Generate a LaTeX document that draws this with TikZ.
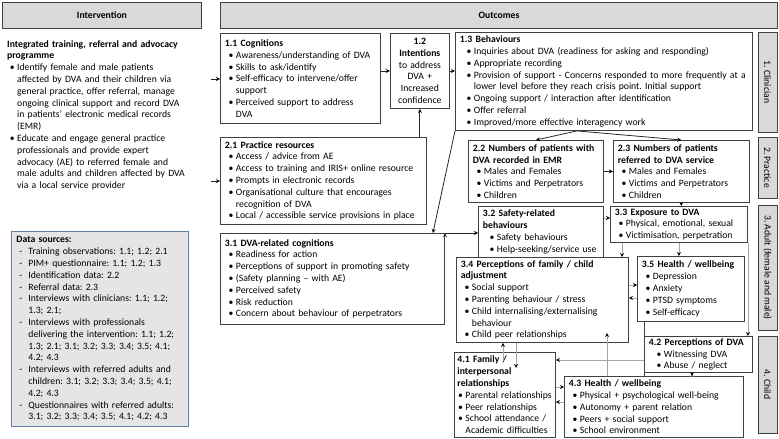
\documentclass[tikz,border=0pt]{standalone}
\usepackage{fontspec}
\setmainfont{Carlito}
\usetikzlibrary{positioning}
\frenchspacing
\hyphenpenalty=10000
\exhyphenpenalty=10000

% bullet and dash items with hanging indent
\newcommand{\itm}[2][11pt]{\par\rightskip=-4pt plus 1fil\hangindent=#1\hangafter=1%
    \noindent\hbox to #1{\hss\textbullet\hskip2.5pt}#2\par}
\newcommand{\dsh}[1]{\par\rightskip=-4pt plus 1fil\hangindent=12pt\hangafter=1%
    \noindent\hbox to 12pt{\hskip3pt-\hfil}#1\par}

\begin{document}
\begin{tikzpicture} [x=1pt, y=-1pt,
            every node/.style={font=\fontsize{9.7}{11.8}\selectfont},
            headbox/.style={draw=black!75, line width=0.9pt, fill=black!15,
                font=\fontsize{9.7}{11.8}\selectfont\bfseries, anchor=north west},
            outbox/.style={draw=black!75, line width=0.9pt, fill=white,
                inner xsep=4.5pt, inner ysep=1.5pt, align=left, anchor=north west},
            sidebox/.style={draw=black!75, line width=0.9pt, fill=black!15,
                rotate=-90, minimum height=19pt, inner sep=0pt},
            srcbox/.style={draw={rgb,255:red,96;green,128;blue,168}, line width=0.9pt,
                fill=black!10, inner xsep=5pt, inner ysep=3pt, align=left,
                anchor=north west},
            blk/.style={-stealth, draw=black!85, line width=0.8pt},
            gry/.style={-stealth, draw=black!35, line width=0.8pt}]

            \useasboundingbox (0,0) rectangle (779,439);

            % Headers
            \node (hInt) [headbox, minimum width=199pt, minimum height=26pt]
                at (2,2) {Intervention};
            \node (hOut) [headbox, minimum width=557pt, minimum height=26pt]
                at (220,2) {Outcomes};

            % Intervention text
            \node (prog) [anchor=north west, inner sep=0pt, text width=196pt, align=left]
                at (7,40) {\textbf{Integrated training, referral and advocacy}\newline
                \textbf{programme}
                \itm[10pt]{Identify female and male patients\newline
                affected by DVA and their children via\newline
                general practice, offer referral, manage\newline
                ongoing clinical support and record DVA\newline
                in patients' electronic medical records\newline (EMR)}
                \itm[10pt]{Educate and engage general practice\newline
                professionals and provide expert\newline
                advocacy (AE) to referred female and\newline
                male adults and children affected by DVA\newline
                via a local service provider}};

            % Data sources
            \node (src) [srcbox, text width=167pt, minimum height=195pt]
                at (11,231) {\textbf{Data sources:}
                \dsh{Training observations: 1.1; 1.2; 2.1}
                \dsh{PIM+ questionnaire: 1.1; 1.2; 1.3}
                \dsh{Identification data: 2.2}
                \dsh{Referral data: 2.3}
                \dsh{Interviews with clinicians: 1.1; 1.2;\newline 1.3; 2.1;}
                \dsh{Interviews with professionals\newline
                delivering the intervention: 1.1; 1.2;\newline
                1.3; 2.1; 3.1; 3.2; 3.3; 3.4; 3.5; 4.1;\newline 4.2; 4.3}
                \dsh{Interviews with referred adults and\newline
                children: 3.1; 3.2; 3.3; 3.4; 3.5; 4.1;\newline 4.2; 4.3}
                \dsh{Questionnaires with referred adults:\newline
                3.1; 3.2; 3.3; 3.4; 3.5; 4.1; 4.2; 4.3}};

            % Box 1.1
            \node (o11) [outbox, text width=151pt, minimum height=90pt]
                at (220,33) {\textbf{1.1 Cognitions}
                \itm{Awareness/understanding of DVA}
                \itm{Skills to ask/identify}
                \itm{Self-efficacy to intervene/offer\newline support}
                \itm{Perceived support to address\newline DVA}};

            % Box 1.2
            \node (o12) [outbox, text width=50pt, minimum height=75pt, align=center,
                right=9pt of o11.north east, anchor=north west]
                {\textbf{1.2}\\\textbf{Intentions}\\to address\\DVA +\\Increased\\confidence};

            % Box 1.3
            \node (o13) [outbox, text width=288pt, minimum height=98pt]
                at (455,32) {\textbf{1.3 Behaviours}
                \itm[14pt]{Inquiries about DVA (readiness for asking and responding)}
                \itm[14pt]{Appropriate recording}
                \itm[14pt]{Provision of support - Concerns responded to more frequently at a\newline
                lower level before they reach crisis point. Initial support}
                \itm[14pt]{Ongoing support / interaction after identification}
                \itm[14pt]{Offer referral}
                \itm[14pt]{Improved/more effective interagency work}};

            % Box 2.1
            \node (o21) [outbox, text width=197pt, minimum height=87pt]
                at (220,137) {\textbf{2.1 Practice resources}
                \itm{Access / advice from AE}
                \itm{Access to training and IRIS+ online resource}
                \itm{Prompts in electronic records}
                \itm{Organisational culture that encourages\newline recognition of DVA}
                \itm{Local / accessible service provisions in place}};

            % Box 2.2
            \node (o22) [outbox, text width=126pt, minimum height=62pt]
                at (468,140) {\textbf{2.2 Numbers of patients with}\newline
                \textbf{DVA recorded in EMR}
                \itm{Males and Females}
                \itm{Victims and Perpetrators}
                \itm{Children}};

            % Box 2.3
            \node (o23) [outbox, text width=127pt, minimum height=62pt,
                right=9pt of o22.north east, anchor=north west]
                {\textbf{2.3 Numbers of patients}\newline
                \textbf{referred to DVA service}
                \itm{Males and Females}
                \itm{Victims and Perpetrators}
                \itm{Children}};

            % Box 3.1
            \node (o31) [outbox, text width=215pt, minimum height=91pt]
                at (220,233) {\textbf{3.1 DVA-related cognitions}
                \itm{Readiness for action}
                \itm{Perceptions of support in promoting safety}
                \itm{(Safety planning -- with AE)}
                \itm{Perceived safety}
                \itm{Risk reduction}
                \itm{Concern about behaviour of perpetrators}};

            % Box 3.2
            \node (o32) [outbox, text width=116pt, minimum height=51pt]
                at (478,206) {\textbf{3.2 Safety-related}\newline
                \textbf{behaviours}
                \itm[14pt]{Safety behaviours}
                \itm[14pt]{Help-seeking/service use}};

            % Box 3.3
            \node (o33) [outbox, text width=128pt, minimum height=36pt]
                at (610,206) {\textbf{3.3 Exposure to DVA}
                \itm{Physical, emotional, sexual}
                \itm{Victimisation, perpetration}};

            % Box 3.4
            \node (o34) [outbox, text width=163pt, minimum height=85pt]
                at (456,257) {\textbf{3.4 Perceptions of family / child}\newline
                \textbf{adjustment}
                \itm{Social support}
                \itm{Parenting behaviour / stress}
                \itm{Child internalising/externalising\newline behaviour}
                \itm{Child peer relationships}};

            % Box 3.5
            \node (o35) [outbox, text width=98pt, minimum height=65pt]
                at (637,256) {\textbf{3.5 Health / wellbeing}
                \itm{Depression}
                \itm{Anxiety}
                \itm{PTSD symptoms}
                \itm{Self-efficacy}};

            % Box 4.1
            \node (o41) [outbox, inner xsep=3pt, text width=95pt, minimum height=85pt]
                at (454,352) {\textbf{4.1 Family /}\newline
                \textbf{interpersonal}\newline
                \textbf{relationships}
                \itm[8pt]{Parental relationships}
                \itm[8pt]{Peer relationships}
                \itm[8pt]{School attendance /\newline Academic difficulties}};

            % Box 4.2
            \node (o42) [outbox, text width=99pt, minimum height=36pt]
                at (644,336) {\textbf{4.2 Perceptions of DVA}
                \itm[15pt]{Witnessing DVA}
                \itm[15pt]{Abuse / neglect}};

            % Box 4.3
            \node (o43) [outbox, text width=170pt, minimum height=61pt]
                at (564,376) {\textbf{4.3 Health / wellbeing}
                \itm{Physical + psychological well-being}
                \itm{Autonomy + parent relation}
                \itm{Peers + social support}
                \itm{School environment}};

            % Side labels
            \node (sCl) [sidebox, minimum width=100pt] at (767.5,82) {1. Clinician};
            \node (sPr) [sidebox, minimum width=61pt] at (767.5,167.5) {2. Practice};
            \node (sAd) [sidebox, minimum width=125pt] at (767.5,267.5) {3. Adult (female and male)};
            \node (sCh) [sidebox, minimum width=97pt] at (767.5,384.5) {4. Child};

            % Free ends
            \coordinate (i1) at (211,79);
            \coordinate (i2) at (211,181);
            \coordinate (m13) at ([xshift=-27pt]o13.south);
            \coordinate (q33) at ([yshift=-12pt]o33.north west);
            \coordinate (r33) at ([xshift=12pt]o33.south west);
            \coordinate (p41u) at (503,361);
            \coordinate (p41d) at (516,368);
            \coordinate (p34u) at (607,333);

            % Arrows
            \path [blk]
                (i1) edge (i1 -| o11.west)
                (i2) edge (i2 -| o21.west)
                (o11.east |- o12.west) edge (o12.west)
                (o12.east) edge (o12.east -| o13.west)
                (o21.north -| o12.south) edge (o12.south)
                (o13.south west) edge ([xshift=-12pt]o31.north east)
                (m13) edge (o22.north)
                (m13) edge (o23.north)
                (o22.east) edge (o22.east -| o23.west)
                (o23.south) edge (o23.south |- o33.north)
                (o31.north east) edge (o31.north east -| o32.west);

            \path [gry]
                (q33 -| o32.east) edge (q33)
                (r33) edge (r33 |- o34.north)
                (o33.south) edge (o33.south |- o35.north)
                (o33.south east) edge (o33.south east |- o42.north)
                (o34.east |- 0,285) edge (o35.west |- 0,285)
                (o35.west |- 0,298) edge (o34.east |- 0,298)
                (p41u) edge (p41u |- o34.south)
                (p41d |- o34.south) edge (p41d)
                (p34u |- o43.north) edge (p34u)
                (o41.east |- 0,387) edge (o43.west |- 0,387)
                (o43.west |- 0,402) edge (o41.east |- 0,402)
                (o42.west |- 0,360) edge (o41.east |- 0,360)
                (o42.south -| 692,0) edge (o43.north -| 692,0);

            % Line from 3.5 down to 4.3
            \path [draw=black!75, line width=0.9pt]
                (o35.south -| o42.west) edge (o43.north -| o42.west);
\end{tikzpicture}
\end{document}
